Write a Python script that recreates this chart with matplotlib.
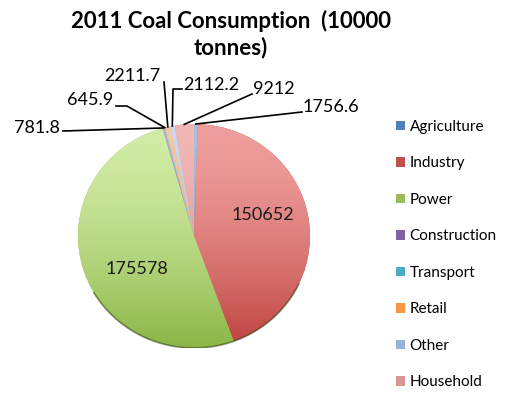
import numpy as np
import matplotlib.pyplot as plt
from matplotlib.colors import to_rgb
from matplotlib.patches import Arc

plt.rcParams['font.family'] = ['Lato', 'DejaVu Sans']

# data
categories = ['Agriculture', 'Industry', 'Power', 'Construction',
              'Transport', 'Retail', 'Other', 'Household']
values = [1756.6, 150652, 175578, 781.8, 645.9, 2211.7, 2112.2, 9212]
value_labels = ['1756.6', '150652', '175578', '781.8', '645.9', '2211.7', '2112.2', '9212']

# base colour (legend) plus light top / dark bottom of the slice gradient
colors = ['#4F81BD', '#C0504D', '#9BBB59', '#8064A2',
          '#4BACC6', '#F79646', '#95B3D7', '#D99694']
colors_top = ['#A9C2E0', '#EE9E9C', '#D2ECA6', '#BBA8D2',
              '#A0D8E6', '#FBC79C', '#C9D9EE', '#F2B6B4']
colors_bot = ['#4474AE', '#BE423E', '#8BB646', '#70558F',
              '#3B9AB4', '#E9823A', '#7F9FC8', '#C98280']

W, H = 516, 399
CX, CY, RX, RY = 194, 236, 116, 112   # pie centre / radii in pixels


def px(x, y):
    # pixel position (from top-left) -> pie data coords
    return (x - CX) / RX, (CY - y) / RY


fig = plt.figure(figsize=(W / 100, H / 100), dpi=100)
ax = fig.add_axes([(CX - RX) / W, (H - CY - RY) / H, 2 * RX / W, 2 * RY / H])

wedges, _ = ax.pie(values, colors=colors, startangle=90, counterclock=False,
                   radius=1, wedgeprops=dict(linewidth=0))

# vertical gradient, light on top and darker at the bottom
g = np.linspace(0, 1, 256)[:, None, None] ** 1.6
for w, ct, cb in zip(wedges, colors_top, colors_bot):
    top = np.array(to_rgb(ct))
    bot = np.array(to_rgb(cb))
    img = top * (1 - g) + bot * g
    im = ax.imshow(img, extent=(-1, 1, -1, 1), origin='upper', aspect='auto', zorder=2)
    im.set_clip_path(w)

# dark rim along the lower edge
ax.add_patch(Arc((0, 0), 2, 2, theta1=210, theta2=335, color='#2a3a10', lw=1.3, alpha=0.5, zorder=3))

ax.set_xlim(-1, 1)
ax.set_ylim(-1, 1)
ax.set_aspect('auto')
ax.axis('off')

# labels inside the two big slices
ax.text(*px(263, 215), value_labels[1], ha='center', va='center', fontsize=13, color='#1a1a1a', zorder=5)
ax.text(*px(137, 269), value_labels[2], ha='center', va='center', fontsize=13, color='#1a1a1a', zorder=5)

# leader lines for the small slices: (index, bend points in px, text pos in px, ha)
leaders = [
    (3, [(63, 131)], (60, 128), 'right'),
    (4, [(127, 106), (116, 106)], (113, 100), 'right'),
    (5, [(164, 82)], (160, 76), 'right'),
    (6, [(173, 89), (182, 89)], (183, 85), 'left'),
    (7, [(252, 94)], (253, 89), 'left'),
    (0, [(302, 112)], (303, 107), 'left'),
]
for i, pts, tpos, ha in leaders:
    w = wedges[i]
    mid = np.deg2rad((w.theta1 + w.theta2) / 2)
    xs = [np.cos(mid)] + [px(*p)[0] for p in pts]
    ys = [np.sin(mid)] + [px(*p)[1] for p in pts]
    ax.plot(xs, ys, color='black', lw=1.2, clip_on=False, zorder=4)
    ax.text(*px(*tpos), value_labels[i], ha=ha, va='center', fontsize=13, clip_on=False)

fig.text(231 / W, 1 - 34 / H, '2011 Coal Consumption  (10000\ntonnes)', ha='center', va='center',
         fontsize=16, fontweight='bold', linespacing=1.3)

fig.legend(wedges, categories, loc='upper left', bbox_to_anchor=(396 / W, 1 - 120 / H),
           frameon=False, fontsize=11, handlelength=0.6, handleheight=0.6,
           handletextpad=0.3, labelspacing=1.47, borderpad=0, borderaxespad=0)

fig.savefig('out.png', dpi=100)
